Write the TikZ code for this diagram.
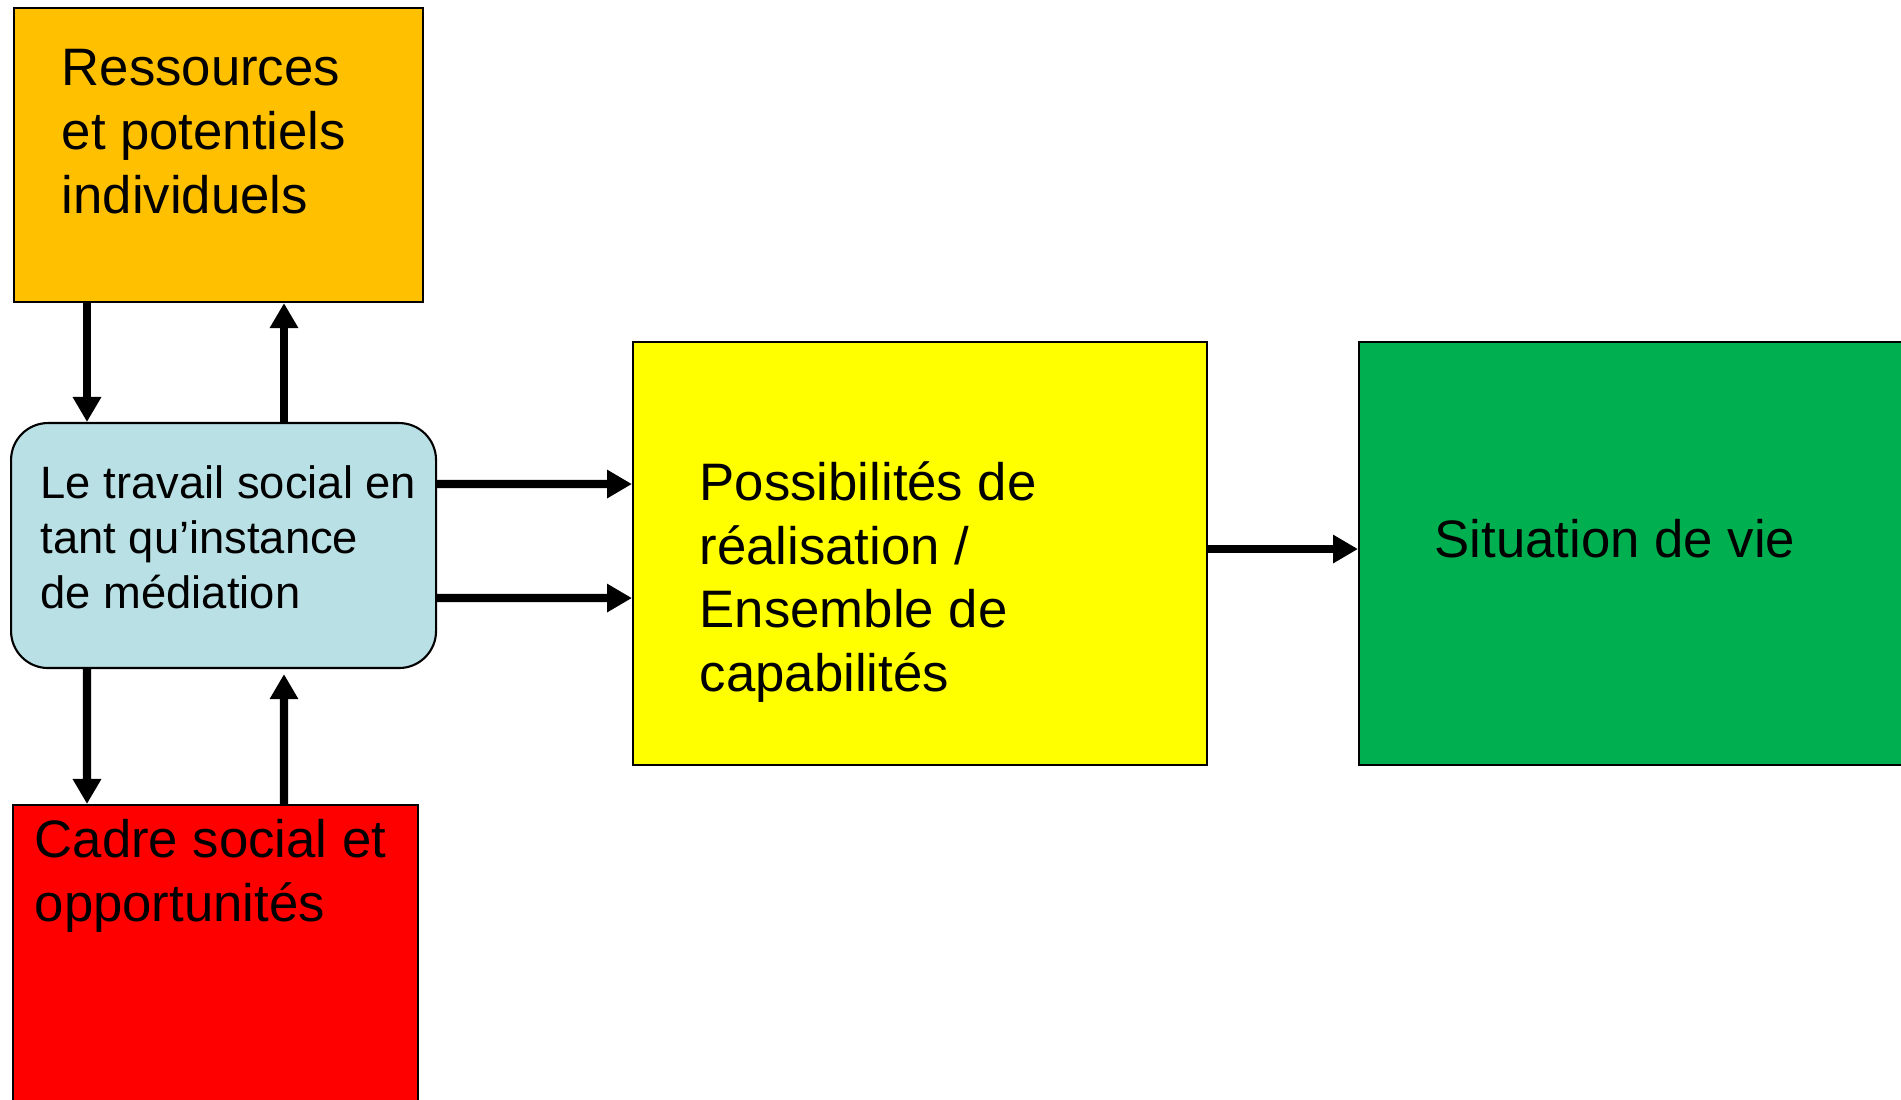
\documentclass[tikz,border=0pt]{standalone}
\usepackage{fontspec}
\setmainfont{Liberation Sans}
\usetikzlibrary{arrows.meta, positioning}

\definecolor{resorange}{HTML}{FFC000}
\definecolor{medblue}{HTML}{B9E0E4}
\definecolor{cadred}{HTML}{FF0000}
\definecolor{posyellow}{HTML}{FFFF00}
\definecolor{sitgreen}{HTML}{00B050}

\begin{document}
\begin{tikzpicture}[
    box/.style={rectangle, draw, line width=0.6pt, inner sep=0pt, anchor=north west},
    bigtxt/.style={align=left, inner sep=0pt, font=\fontsize{15}{18.1}\selectfont},
    smalltxt/.style={align=left, inner sep=0pt, font=\fontsize{12.9}{15.6}\selectfont},
    flow/.style={-{Triangle[length=0.25cm, width=0.27cm]}, line width=2.3pt}
]
\useasboundingbox (0,0) rectangle (19.01,11);
\clip (0,0) rectangle (19.01,11);

% Boxes
\node[box, fill=resorange, minimum width=4.09cm, minimum height=2.94cm] (res) at (0.13,10.93) {};
\node[box, fill=medblue, rounded corners=0.37cm, minimum width=4.25cm, minimum height=2.45cm] (med) at (0.10,6.78) {};
\node[box, fill=cadred, minimum width=4.05cm, minimum height=3.3cm] (cad) at (0.12,2.96) {};
\node[box, fill=posyellow, minimum width=5.74cm, minimum height=4.23cm] (pos) at (6.32,7.59) {};
\node[box, fill=sitgreen, minimum width=5.8cm, minimum height=4.23cm] (sit) at (13.58,7.59) {};

% Texts
\node[bigtxt, below right=0.42cm and 0.48cm of res.north west] (res-t) {Ressources\\et potentiels\\individuels};
\node[smalltxt, below right=0.43cm and 0.30cm of med.north west] (med-t) {Le travail social en\\tant qu’instance\\de médiation};
\node[bigtxt, below right=0.15cm and 0.22cm of cad.north west] (cad-t) {Cadre social et\\opportunités};
\node[bigtxt, below right=1.20cm and 0.67cm of pos.north west] (pos-t) {Possibilités de\\réalisation /\\Ensemble de\\capabilités};
\node[bigtxt, below right=1.78cm and 0.76cm of sit.north west] (sit-t) {Situation de vie};

% Connections
\draw[flow] ([xshift=0.74cm]res.south west) -- ([xshift=0.77cm]med.north west);
\draw[flow] ([xshift=2.74cm]med.north west) -- ([xshift=2.71cm]res.south west);
\draw[flow] ([xshift=0.77cm]med.south west) -- ([xshift=0.75cm]cad.north west);
\draw[flow, shorten >=0.05cm] ([xshift=2.72cm]cad.north west) -- ([xshift=2.74cm]med.south west);
\draw[flow] ([yshift=0.615cm]med.east) -- ([yshift=0.695cm]pos.west);
\draw[flow] ([yshift=-0.525cm]med.east) -- ([yshift=-0.445cm]pos.west);
\draw[flow] ([yshift=0.045cm]pos.east) -- ([yshift=0.045cm]sit.west);

\end{tikzpicture}
\end{document}
